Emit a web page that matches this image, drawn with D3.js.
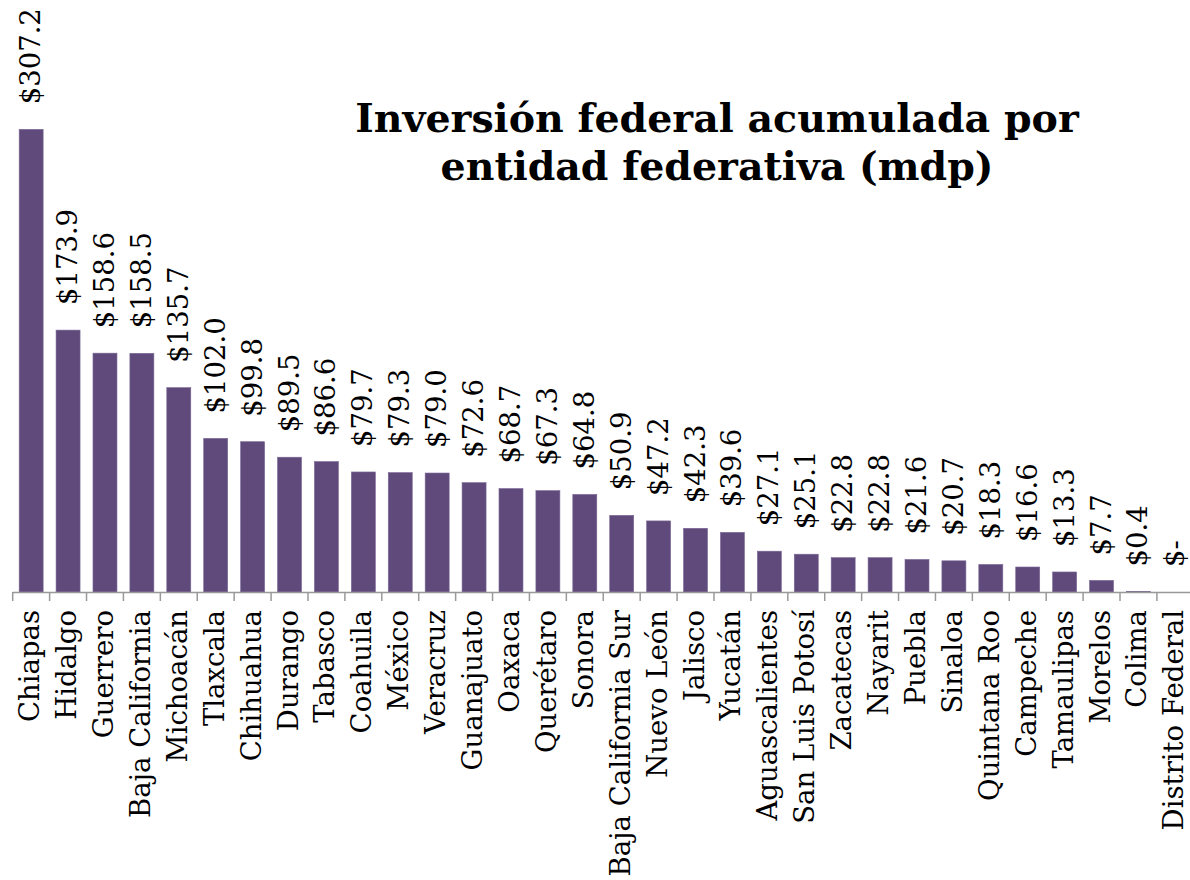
<!DOCTYPE html>
<html><head><meta charset="utf-8">
<script src="https://cdn.jsdelivr.net/npm/d3@7"></script>
<style>body{margin:0;background:#fff}svg{display:block}</style>
</head><body>
<svg id="c" width="1190" height="880"></svg>
<script>
const categories = ["Chiapas","Hidalgo","Guerrero","Baja California","Michoacán","Tlaxcala","Chihuahua","Durango","Tabasco","Coahuila","México","Veracruz","Guanajuato","Oaxaca","Querétaro","Sonora","Baja California Sur","Nuevo León","Jalisco","Yucatán","Aguascalientes","San Luis Potosí","Zacatecas","Nayarit","Puebla","Sinaloa","Quintana Roo","Campeche","Tamaulipas","Morelos","Colima","Distrito Federal"];
const values = [307.2,173.9,158.6,158.5,135.7,102.0,99.8,89.5,86.6,79.7,79.3,79.0,72.6,68.7,67.3,64.8,50.9,47.2,42.3,39.6,27.1,25.1,22.8,22.8,21.6,20.7,18.3,16.6,13.3,7.7,0.4,0];
const titleLines = ["Inversión federal acumulada por","entidad federativa (mdp)"];

const svg = d3.select("#c");
const FONT = "'DejaVu Serif', 'Liberation Serif', serif";
const x0 = 12.7, band = 36.91, base = 592;
const x = d3.scaleBand().domain(categories).range([x0, x0 + band*categories.length]).paddingInner(0.35).paddingOuter(0.175);
const y = d3.scaleLinear().domain([0, 350]).range([base, base - 350*1.506]);

// bars
svg.append("g").selectAll("rect").data(values).join("rect")
  .attr("x", (d,i)=>x(categories[i]))
  .attr("width", x.bandwidth())
  .attr("y", d=>y(d))
  .attr("height", d=>base - y(d))
  .attr("fill", "#604A7B")
  .attr("stroke", "#7a6896").attr("stroke-width", 0.6);

// axis
const ax = svg.append("g");
ax.append("line").attr("x1", x0).attr("x2", 1190).attr("y1", base+0.5).attr("y2", base+0.5)
  .attr("stroke", "#999").attr("stroke-width", 1.5);
const ticks = d3.range(categories.length + 1).map(i => x0 + i*band);
ax.selectAll("line.t").data(ticks).join("line").attr("class","t")
  .attr("x1", d=>d).attr("x2", d=>d).attr("y1", base).attr("y2", base+9)
  .attr("stroke", "#999").attr("stroke-width", 1.5);

// category labels
svg.append("g").selectAll("text").data(categories).join("text")
  .attr("transform", d => `translate(${x(d)+x.bandwidth()/2+8},${base+18}) rotate(-90)`)
  .attr("text-anchor", "end")
  .attr("font-family", FONT).attr("font-size", 27.5).attr("fill", "#000")
  .text(d=>d);

// value labels
const fmt = v => v === 0 ? "$-" : "$" + v.toFixed(1);
svg.append("g").selectAll("text").data(values).join("text")
  .attr("transform", (d,i) => `translate(${x(categories[i])+x.bandwidth()/2+9},${y(d)-25}) rotate(-90)`)
  .attr("text-anchor", "start")
  .attr("font-family", FONT).attr("font-size", 27.5).attr("fill", "#000")
  .text(d=>fmt(d));

// title
svg.append("g").selectAll("text").data(titleLines).join("text")
  .attr("x", 717).attr("y", (d,i)=>132 + i*48)
  .attr("text-anchor", "middle")
  .attr("font-family", FONT).attr("font-weight", "bold").attr("font-size", 39.5).attr("fill", "#000")
  .text(d=>d);
</script>
</body></html>
